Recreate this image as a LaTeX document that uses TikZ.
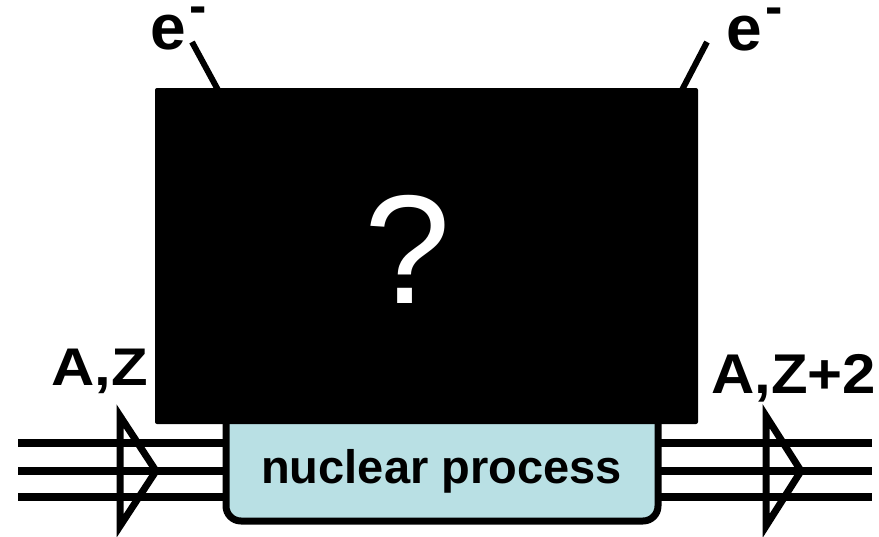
\documentclass[tikz,border=0pt]{standalone}
\usepackage{fontspec}
\setmainfont{Liberation Sans}
\definecolor{procblue}{RGB}{185,224,228}
\begin{document}
\begin{tikzpicture}[x=1pt,y=-1pt]
\tikzset{
  wire/.style={line width=7.5pt},
  headtri/.style={line width=7pt, line join=miter, miter limit=10},
  eline/.style={line width=6pt},
  biglab/.style={inner sep=0pt, anchor=base west, font=\bfseries\fontsize{53}{53}\selectfont},
  elab/.style={inner sep=0pt, anchor=base west, font=\bfseries\fontsize{64}{64}\selectfont}
}
\useasboundingbox (0,0) rectangle (879,536);
\fill[white] (0,0) rectangle (879,536);

% nuclear process box
\node[draw, line width=7pt, fill=procblue, rounded corners=15pt,
      minimum width=432pt, minimum height=121pt, inner sep=0pt, outer sep=0pt]
      (proc) at (442,460.5) {};

% input / output wires
\coordinate (L1) at (18,443);
\coordinate (L2) at (18,471);
\coordinate (L3) at (18,497);
\coordinate (R1) at (872,443);
\coordinate (R2) at (872,471);
\coordinate (R3) at (872,497);
\draw[wire] (L1) -- (L1 -| proc.west);
\draw[wire] (L2) -- (L2 -| proc.west);
\draw[wire] (L3) -- (L3 -| proc.west);
\draw[wire] (R1 -| proc.east) -- (R1);
\draw[wire] (R2 -| proc.east) -- (R2);
\draw[wire] (R3 -| proc.east) -- (R3);

% open arrowheads
\draw[headtri] (120,416) -- (156,471) -- (120,526) -- cycle;
\draw[headtri] (766,416) -- (801,471) -- (766,526) -- cycle;

% electron lines
\coordinate (eLtop) at (192,42);
\coordinate (eLfoot) at (218,90);
\coordinate (eRtop) at (707,42);
\coordinate (eRfoot) at (682,90);
\draw[eline] (eLtop) -- (eLfoot);
\draw[eline] (eRtop) -- (eRfoot);

% black box
\node[fill=black, minimum width=543pt, minimum height=336pt, inner sep=0pt,
      outer sep=0pt, rounded corners=2pt] (bb) at (426.5,256) {};
\node[inner sep=0pt, anchor=base, text=white,
      font=\fontsize{155}{155}\selectfont] (qm) at (407.5,303) {?};

% process label
\node[inner sep=0pt, anchor=base, font=\bfseries\fontsize{47}{47}\selectfont]
      (ptext) at (441.5,483) {nuclear process};

% labels
\node[biglab] (inlab) at (51,385) {\scalebox{1.13}[1]{A,Z}};
\node[biglab, font=\bfseries\fontsize{56}{56}\selectfont] (outlab) at (711,393) {\scalebox{1.07}[1]{A,Z+2}};
\node[elab] (eL) at (150,49) {e\kern4pt\smash{\raisebox{25.5pt}{\fontsize{52}{52}\selectfont -}}};
\node[elab] (eR) at (726,50) {e\kern4pt\smash{\raisebox{25.5pt}{\fontsize{52}{52}\selectfont -}}};
\end{tikzpicture}
\end{document}
